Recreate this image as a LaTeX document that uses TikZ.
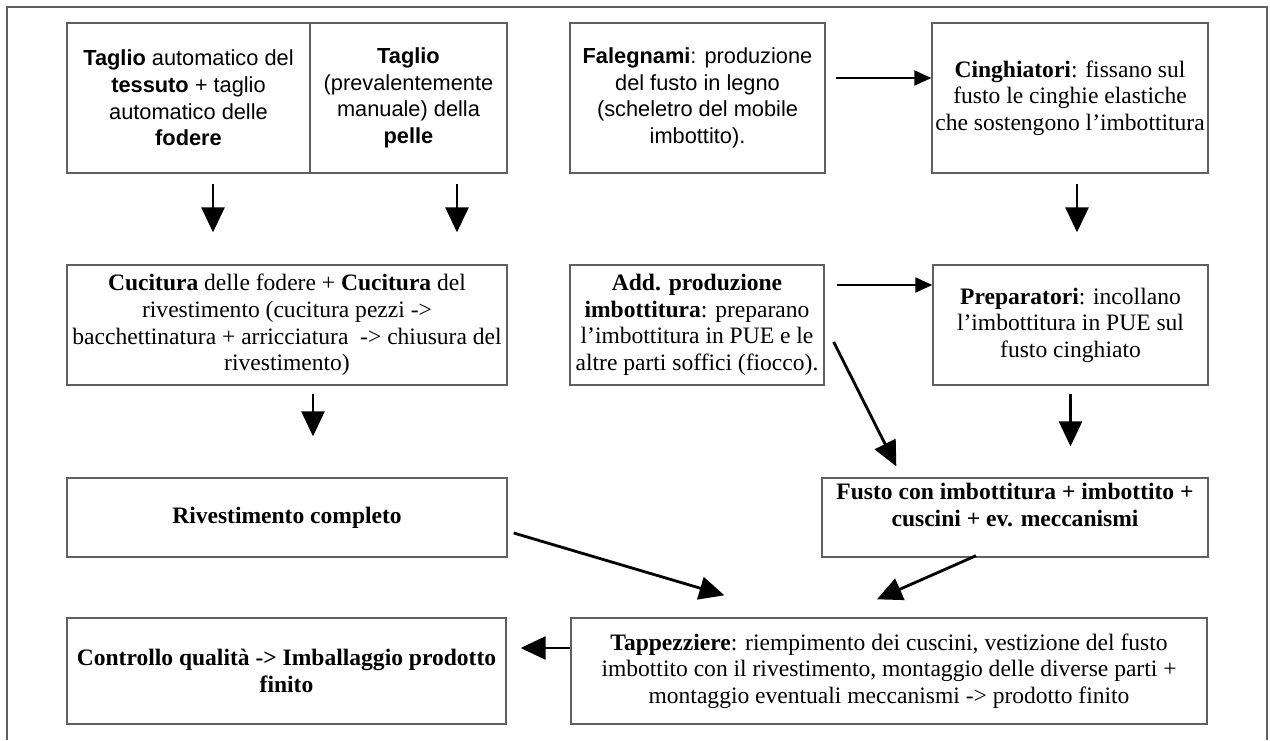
\documentclass[tikz,border=0pt]{standalone}
\usepackage{fontspec}
\setmainfont{Liberation Serif}
\newfontfamily\arialfont{Liberation Sans}
\usetikzlibrary{arrows.meta}
\definecolor{boxline}{RGB}{95,95,95}
\tikzset{box/.style={draw=boxline,line width=.8pt,align=center,inner sep=0pt,
  font=\fontsize{13.4}{15.1}\selectfont},
 sansbox/.style={box,font=\arialfont\fontsize{12.4}{15.2}\selectfont},
 flow/.style={-{Triangle[length=.5cm,width=.46cm]},line width=1.6pt},
 thinflow/.style={-{Triangle[length=.34cm,width=.3cm]},line width=1.1pt}}

\begin{document}
\begin{tikzpicture}[x=.02cm,y=-.02cm]
\useasboundingbox (0,0) rectangle (1270,740);
\draw[boxline,line width=.8pt] (7,740) |- (1267,7) -- (1267,740);
% first row
\node[sansbox,minimum width=4.86cm,minimum height=3cm] (tessuto) at (188.5,98)
 {\textbf{Taglio} automatico del\\\textbf{tessuto} + taglio\\automatico delle\\\textbf{fodere}};
\node[sansbox,minimum width=3.94cm,minimum height=3cm] (pelle) at (408.5,98)
 {\textbf{Taglio}\\(prevalentemente\\manuale) della\\\textbf{pelle}};
\node[sansbox,minimum width=5.1cm,minimum height=3cm] (falegnami) at (697.5,98)
 {\textbf{Falegnami}: produzione\\del fusto in legno\\(scheletro del mobile\\imbottito).};
\node[box,minimum width=5.52cm,minimum height=3cm] (cinghiatori) at (1070,98)
 {\textbf{Cinghiatori}: fissano sul\\fusto le cinghie elastiche\\che sostengono l’imbottitura};
% second row
\node[box,minimum width=8.8cm,minimum height=2.4cm] (cucitura) at (287,325)
 {\textbf{Cucitura} delle fodere + \textbf{Cucitura} del\\rivestimento (cucitura pezzi ->\\bacchettinatura + arricciatura\ \ -> chiusura del\\rivestimento)};
\node[box,minimum width=5.08cm,minimum height=2.4cm] (addetti) at (697,325)
 {\textbf{Add. produzione}\\\textbf{imbottitura}: preparano\\l’imbottitura in PUE e le\\altre parti soffici (fiocco).};
\node[box,minimum width=5.5cm,minimum height=2.4cm] (preparatori) at (1070.5,325)
 {\textbf{Preparatori}: incollano\\l’imbottitura in PUE sul\\fusto cinghiato};
% third row
\node[box,minimum width=8.8cm,minimum height=1.58cm] (rivestimento) at (287,517.5)
 {\textbf{Rivestimento completo}};
\node[box,minimum width=7.72cm,minimum height=1.58cm,text depth=.5cm] (fusto) at (1015,517.5)
 {\textbf{Fusto con imbottitura + imbottito +}\\\textbf{cuscini + ev. meccanismi}};
% last row
\node[box,minimum width=8.78cm,minimum height=2.12cm] (controllo) at (286.5,671)
 {\textbf{Controllo qualità -> Imballaggio prodotto}\\\textbf{finito}};
\node[box,minimum width=12.72cm,minimum height=2.12cm] (tappezziere) at (889,671)
 {\textbf{Tappezziere}: riempimento dei cuscini, vestizione del fusto\\imbottito con il rivestimento, montaggio delle diverse parti +\\montaggio eventuali meccanismi -> prodotto finito};
% connectors
\draw[flow,shorten <=.2cm,shorten >=.64cm] ([xshift=.49cm]tessuto.south) -- ([xshift=.49cm]tessuto.south |- cucitura.north);
\draw[flow,shorten <=.2cm,shorten >=.64cm] ([xshift=.97cm]pelle.south) -- ([xshift=.97cm]pelle.south |- cucitura.north);
\draw[flow,shorten <=.2cm,shorten >=.64cm] ([xshift=.14cm]cinghiatori.south) -- ([xshift=.14cm]cinghiatori.south |- preparatori.north);
\draw[thinflow,shorten <=.2cm] ([yshift=.4cm]falegnami.east) -- ([yshift=.4cm]falegnami.east -| cinghiatori.west);
\draw[thinflow,shorten <=.24cm] ([yshift=.8cm]addetti.east) -- ([yshift=.8cm]addetti.east -| preparatori.west);
\draw[flow,shorten <=.16cm,shorten >=.82cm] ([xshift=.52cm]cucitura.south) -- ([xshift=.52cm]cucitura.south |- rivestimento.north);
\draw[flow,shorten <=.16cm,shorten >=.62cm] (preparatori.south) -- (preparatori.south |- fusto.north);
\draw[flow] ([shift={(.18cm,-.34cm)}]addetti.east) -- ([shift={(1.5cm,.22cm)}]fusto.north west);
\draw[flow] ([shift={(.12cm,-.31cm)}]rivestimento.east) -- ([shift={(3.08cm,.44cm)}]tappezziere.north west);
\draw[flow] ([shift={(-.78cm,.04cm)}]fusto.south) -- ([shift={(-.24cm,.36cm)}]tappezziere.north);
\draw[flow,shorten >=.28cm] ([yshift=.46cm]tappezziere.west) -- ([yshift=.46cm]tappezziere.west -| controllo.east);
\end{tikzpicture}
\end{document}
